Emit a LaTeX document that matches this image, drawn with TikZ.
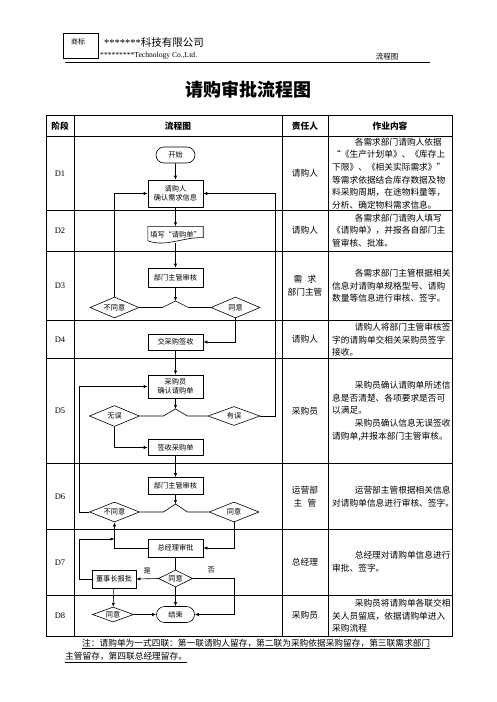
\documentclass[tikz,border=0pt]{standalone}
\usepackage{fontspec}
\setmainfont{Noto Sans CJK SC}
\newfontfamily\tms{Liberation Serif}
\usetikzlibrary{shapes.geometric,shapes.misc,arrows.meta,calc}
\tikzset{
  fc/.style={font=\fontsize{7.2}{9.5}\selectfont},
  box/.style={draw, line width=0.6pt, fc, minimum width=55pt, inner sep=0pt, align=center},
  term/.style={draw, line width=0.6pt, rounded rectangle, fc, minimum width=39pt, minimum height=16pt, inner sep=0pt},
  dia/.style={draw, line width=0.6pt, diamond, fc, inner sep=0pt, aspect=2.4},
  arr/.style={-{Latex[length=4pt,width=3.2pt]}, line width=0.6pt},
  ln/.style={line width=0.6pt},
  grid/.style={line width=0.9pt},
  hd/.style={font=\fontsize{8.7}{11}\selectfont\bfseries},
  dl/.style={font=\tms\fontsize{8.5}{10}\selectfont},
  who/.style={font=\fontsize{8.7}{13}\selectfont, align=center},
  body/.style={font=\fontsize{8.7}{12.6}\selectfont, anchor=west, align=left, inner sep=0pt},
  lab/.style={font=\fontsize{7.2}{9}\selectfont}
}
\begin{document}
\begin{tikzpicture}[x=1pt,y=-1pt]
\useasboundingbox (0,0) rectangle (496,702);
% ---------- header ----------
\node[draw, line width=0.8pt, minimum width=35pt, minimum height=25pt, inner sep=0pt] (logo) at (80.5,45.5) {};
\node[font=\fontsize{7}{8}\selectfont, inner sep=0pt] (logotext) at (78,42) {商标};
\node[anchor=west, inner sep=0pt, font=\fontsize{10.5}{12}\selectfont] (coname) at (104,43)
  {{\tms *******}科技有限公司};
\node[anchor=west, inner sep=0pt, font=\tms\fontsize{7.6}{9}\selectfont] (coen) at (100,55.5)
  {*********Technology Co.,Ltd.};
\node[font=\fontsize{7.5}{9}\selectfont, inner sep=0pt] (doctype) at (387,56.5) {流程图};
\coordinate (hl) at (65,62.5);
\coordinate (hr) at (430,62.5);
\draw[line width=0.9pt] (hl) -- (hr);
\node[font=\fontsize{18}{20}\selectfont\bfseries] (title) at (248,90) {请购审批流程图};
% ---------- table grid ----------
\draw[grid] (46,115) rectangle (452,636);
\foreach \yy in {136,210,251,320,358,463,529,595} \draw[grid] (46,\yy) -- (452,\yy);
\foreach \xx in {74,282,328} \draw[grid] (\xx,115) -- (\xx,636);
% header row
\node[hd] (h1) at (60,126) {阶段};
\node[hd] (h2) at (178,126) {流程图};
\node[hd] (h3) at (305,126) {责任人};
\node[hd] (h4) at (390,126) {作业内容};
% stage labels
\node[dl] (d1) at (60,174) {D1};
\node[dl] (d2) at (60,230.5) {D2};
\node[dl] (d3) at (60,286) {D3};
\node[dl] (d4) at (60,339.5) {D4};
\node[dl] (d5) at (60,411) {D5};
\node[dl] (d6) at (60,497) {D6};
\node[dl] (d7) at (60,563) {D7};
\node[dl] (d8) at (60,615.5) {D8};
% responsible
\node[who] (w1) at (305,173.5) {请购人};
\node[who] (w2) at (305,230.5) {请购人};
\node[who] (w3) at (305,285.5) {需\hspace{0.6em}求\\部门主管};
\node[who] (w4) at (305,339.5) {请购人};
\node[who] (w5) at (305,411) {采购员};
\node[who] (w6) at (305,496.5) {运营部\\主\hspace{0.6em}管};
\node[who] (w7) at (305,562) {总经理};
\node[who] (w8) at (305,615.5) {采购员};
% content
\node[body] (c1) at (332,173.5) {\hspace*{2.6em}各需求部门请购人依据\\“《生产计划单》、《库存上\\下限》、《相关实际需求》”\\等需求依据结合库存数据及物\\料采购周期，在途物料量等，\\分析、确定物料需求信息。};
\node[body] (c2) at (332,230.5) {\hspace*{2.6em}各需求部门请购人填写\\《请购单》，并报各自部门主\\管审核、批准。};
\node[body] (c3) at (332,286) {\hspace*{2.6em}各需求部门主管根据相关\\信息对请购单规格型号、请购\\数量等信息进行审核、签字。};
\node[body] (c4) at (332,340) {\hspace*{2.6em}请购人将部门主管审核签\\字的请购单交相关采购员签字\\接收。};
\node[body] (c5) at (332,411) {\hspace*{2.6em}采购员确认请购单所述信\\息是否清楚、各项要求是否可\\以满足。\\\hspace*{2.6em}采购员确认信息无误签收\\请购单,并报本部门主管审核。};
\node[body] (c6) at (332,496.5) {\hspace*{2.6em}运营部主管根据相关信息\\对请购单信息进行审核、签字。};
\node[body] (c7) at (332,561.5) {\hspace*{2.6em}总经理对请购单信息进行\\审批、签字。};
\node[body] (c8) at (332,616) {\hspace*{2.6em}采购员将请购单各联交相\\关人员留底，依据请购单进入\\采购流程};
% footnote
\node[anchor=west, inner sep=0pt, font=\fontsize{8.7}{11}\selectfont] (fn1) at (82,644)
  {\underline{注：请购单为一式四联：第一联请购人留存，第二联为采购依据采购留存，第三联需求部门}};
\node[anchor=west, inner sep=0pt, font=\fontsize{8.7}{11}\selectfont] (fn2) at (65,657.5)
  {\underline{主管留存，第四联总经理留存。}};
% ---------- flow chart ----------
\node[term] (start) at (175.5,155) {开始};
\node[box, minimum height=27pt] (confirm) at (175.5,193.5) {请购人\\确认需求信息};
\node[minimum width=55pt, minimum height=16pt, inner sep=0pt, fc] (fill) at (175.5,234.5) {填写“请购单”};
\draw[ln] (fill.north west) -- ($(fill.south west)+(0,-2)$)
  .. controls ($(fill.south)+(-10,5)$) and ($(fill.south)+(8,-6)$) .. ($(fill.south east)+(0,-5)$)
  -- (fill.north east) -- cycle;
\node[box, minimum height=19pt] (review1) at (175.5,277.5) {部门主管审核};
\node[dia, minimum width=49pt, minimum height=21pt] (no1) at (114.5,307.5) {不同意};
\node[dia, minimum width=49pt, minimum height=21pt] (yes1) at (235.5,307.5) {同意};
\coordinate (hump1) at (175.5,301);
\node[box, minimum height=16pt] (hand) at (175.5,342) {交采购签收};
\node[box, minimum height=23pt] (buyer) at (175.5,386.5) {采购员\\确认请购单};
\node[dia, minimum width=50pt, minimum height=21pt] (ok2) at (114.5,416) {无误};
\node[dia, minimum width=52pt, minimum height=19pt] (err2) at (234,416) {有误};
\coordinate (hump2) at (175.5,409);
\node[box, minimum height=16pt] (sign) at (175.5,447.5) {签收采购单};
\node[box, minimum height=17pt] (review2) at (175.5,486) {部门主管审核};
\node[dia, minimum width=50pt, minimum height=20pt] (no3) at (114.5,512) {不同意};
\node[dia, minimum width=50pt, minimum height=20pt] (yes3) at (234,512) {同意};
\coordinate (hump3) at (175.5,504);
\node[box, minimum height=18pt] (gm) at (175.5,548) {总经理审批};
\node[box, minimum width=44pt, minimum height=18pt] (chair) at (114,579) {董事长报批};
\node[dia, minimum width=34pt, minimum height=17pt] (agree) at (175.5,578.5) {同意};
\coordinate (j1) at (114.5,539);
\node[dia, minimum width=41pt, minimum height=15pt] (agree2) at (113,614.5) {同意};
\node[term, minimum width=38pt] (finish) at (175.5,614.5) {结束};
% connectors
\draw[arr] (start) -- (confirm);
\draw[arr] (confirm) -- (fill);
\draw[arr] (fill.south) -- (review1);
\draw[arr] (review1) -- (hump1);
\draw[ln] (no1.east) -- ($(hump1)+(-13,6.5)$) -- (hump1) -- ($(hump1)+(13,6.5)$) -- (yes1.west);
\draw[arr] (no1.north) |- (confirm.west);
\draw[arr] (yes1.south) |- (hand.east);
\draw[arr] (hand) -- (buyer);
\draw[arr] (buyer) -- (hump2);
\draw[ln] (ok2.east) -- ($(hump2)+(-12,7)$) -- (hump2) -- ($(hump2)+(12,7)$) -- (err2.west);
\draw[arr] (err2.east) -- ++(15,0) |- (confirm.east);
\draw[arr] (ok2.south) |- (sign.west);
\draw[arr] (sign) -- (review2);
\draw[arr] (review2) -- (hump3);
\draw[ln] (no3.east) -- ($(hump3)+(-12,8)$) -- (hump3) -- ($(hump3)+(12,8)$) -- (yes3.west);
\draw[arr] (no3.west) -- ++(-9.5,0) |- (buyer.west);
\draw[arr] (yes3.south) |- (gm.east);
\draw[arr] (gm.west) -| (no3.south);
\draw[arr] (chair.west) -- ++(-12,0) |- (j1);
\draw[ln] (gm) -- (agree);
\draw[arr] (agree.west) -- node[lab, above=1.5pt] {是} (chair.east);
\draw[arr] (agree.east) -- node[lab, pos=0.45, above=1.5pt] {否} ++(41,0) |- (finish.east);
\draw[arr] (agree) -- (finish);
\draw[arr] (chair) -- (agree2);
\draw[arr] (agree2) -- (finish);
\end{tikzpicture}
\end{document}
